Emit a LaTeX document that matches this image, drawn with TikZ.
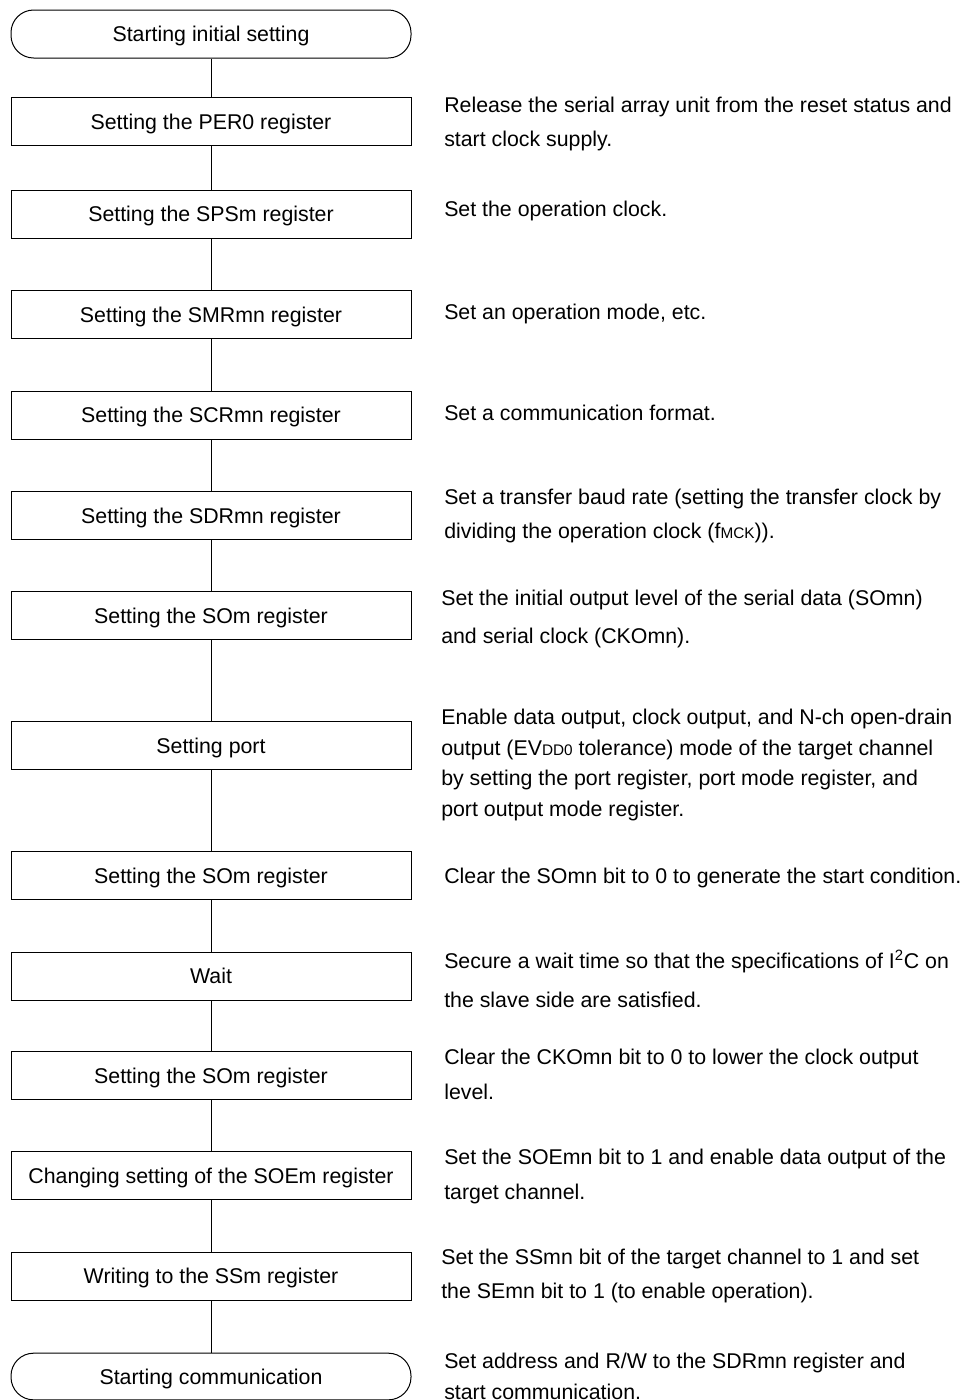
\documentclass[tikz,border=0pt]{standalone}
\usepackage{fontspec}
\setmainfont{Liberation Sans}
\newcommand{\mainfs}{\fontsize{16}{19}\selectfont}
\newcommand{\smallcap}[1]{{\fontsize{11.5}{12}\selectfont #1}}
\begin{document}
\begin{tikzpicture}[x=0.75pt,y=-0.75pt,
  box/.style={draw, line width=0.75pt, minimum width=300pt, minimum height=36pt, inner sep=0pt, font=\mainfs, text height=13.5pt, text depth=1.8pt},
  term/.style={box, rounded corners=17pt},
  desc/.style={anchor=west, align=left, inner sep=0pt},
  link/.style={line width=0.75pt}]
\useasboundingbox (0,0) rectangle (965,1400);
\node[term] (t0) at (211,34) {Starting initial setting};
\node[box] (b1) at (211,121.5) {Setting the PER0 register};
\node[box] (b2) at (211,214) {Setting the SPSm register};
\node[box] (b3) at (211,314.5) {Setting the SMRmn register};
\node[box] (b4) at (211,415) {Setting the SCRmn register};
\node[box] (b5) at (211,515.5) {Setting the SDRmn register};
\node[box] (b6) at (211,615.5) {Setting the SOm register};
\node[box] (b7) at (211,745.5) {Setting port};
\node[box] (b8) at (211,875.5) {Setting the SOm register};
\node[box] (b9) at (211,976) {Wait};
\node[box] (b10) at (211,1075.5) {Setting the SOm register};
\node[box] (b11) at (211,1175.5) {Changing setting of the SOEm register};
\node[box] (b12) at (211,1276) {Writing to the SSm register};
\node[term, minimum height=35pt] (t1) at (211,1376.5) {Starting communication};
\foreach \a/\b in {t0/b1,b1/b2,b2/b3,b3/b4,b4/b5,b5/b6,b6/b7,b7/b8,b8/b9,b9/b10,b10/b11,b11/b12,b12/t1}
  \draw[link] (\a) -- (\b);
\node[desc, font=\fontsize{16}{25.5}\selectfont] (d1) at (444,124) {Release the serial array unit from the reset status and\\start clock supply.};
\node[desc, font=\mainfs] (d2) at (444,211) {Set the operation clock.};
\node[desc, font=\mainfs] (d3) at (444,314) {Set an operation mode, etc.};
\node[desc, font=\mainfs] (d4) at (444,413) {Set a communication format.};
\node[desc, font=\fontsize{16}{25.5}\selectfont] (d5) at (444,516) {Set a transfer baud rate (setting the transfer clock by\\dividing the operation clock (f\smallcap{MCK})).};
\node[desc, font=\fontsize{16}{28.5}\selectfont] (d6) at (441,619) {Set the initial output level of the serial data (SOmn)\\and serial clock (CKOmn).};
\node[desc, font=\fontsize{16}{23}\selectfont] (d7) at (441,765) {Enable data output, clock output, and N-ch open-drain\\output (EV\smallcap{DD0} tolerance) mode of the target channel\\by setting the port register, port mode register, and\\port output mode register.};
\node[desc, font=\mainfs] (d8) at (444,878) {Clear the SOmn bit to 0 to generate the start condition.};
\node[desc, font=\fontsize{16}{29.25}\selectfont] (d9) at (444,979) {Secure a wait time so that the specifications of I\textsuperscript{2}C on\\the slave side are satisfied.};
\node[desc, font=\fontsize{16}{26.25}\selectfont] (d10) at (444,1074.5) {Clear the CKOmn bit to 0 to lower the clock output\\level.};
\node[desc, font=\fontsize{16}{26.25}\selectfont] (d11) at (444,1176.5) {Set the SOEmn bit to 1 and enable data output of the\\target channel.};
\node[desc, font=\fontsize{16}{25.5}\selectfont] (d12) at (441,1276) {Set the SSmn bit of the target channel to 1 and set\\the SEmn bit to 1 (to enable operation).};
\node[desc, font=\fontsize{16}{23.25}\selectfont] (d13) at (444,1376) {Set address and R/W to the SDRmn register and\\start communication.};
\end{tikzpicture}
\end{document}
